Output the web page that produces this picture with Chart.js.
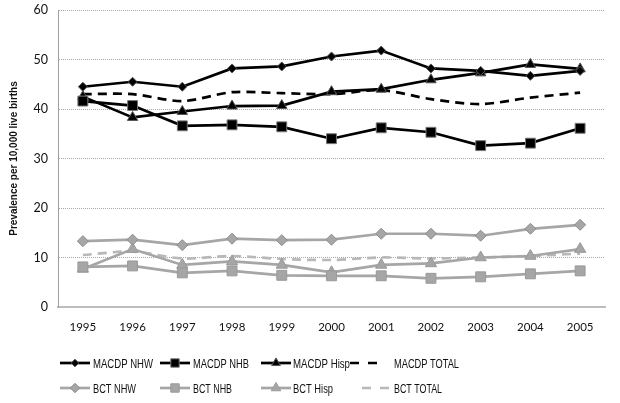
<!DOCTYPE html>
<html lang="en">
<head>
<meta charset="UTF-8">
<title>Prevalence per 10,000 live births</title>
<script src="https://cdn.jsdelivr.net/npm/chart.js"></script>
<style>
  html, body { margin: 0; padding: 0; background: #fff; }
</style>
</head>
<body>
<canvas id="chart" width="620" height="403"></canvas>
<script>
  const years = ['1995', '1996', '1997', '1998', '1999', '2000', '2001', '2002', '2003', '2004', '2005'];
  const yTicks = [0, 10, 20, 30, 40, 50, 60];

  const macdpNHW   = [44.5, 45.5, 44.5, 48.2, 48.6, 50.6, 51.8, 48.2, 47.7, 46.7, 47.7];
  const macdpNHB   = [41.6, 40.7, 36.6, 36.8, 36.4, 34.0, 36.2, 35.3, 32.6, 33.1, 36.1];
  const macdpHisp  = [42.5, 38.3, 39.5, 40.6, 40.7, 43.5, 44.0, 45.9, 47.3, 49.0, 48.1];
  const macdpTotal = [43.0, 43.0, 41.6, 43.4, 43.2, 43.0, 43.8, 42.0, 41.0, 42.3, 43.3];

  const bctNHW   = [13.3, 13.6, 12.5, 13.8, 13.5, 13.6, 14.8, 14.8, 14.4, 15.8, 16.6];
  const bctNHB   = [8.1, 8.3, 6.9, 7.3, 6.4, 6.3, 6.3, 5.8, 6.1, 6.7, 7.3];
  const bctHisp  = [7.7, 11.7, 8.5, 9.2, 8.5, 7.0, 8.5, 8.8, 10.0, 10.3, 11.7];
  const bctTotal = [10.5, 11.2, 9.8, 10.3, 9.7, 9.5, 10.0, 9.8, 10.0, 10.3, 10.8];

  const BLACK = '#000000';
  const GREY = '#a6a6a6';
  const LIGHT = '#b8b8b8';

  function solid(label, data, color, style, radius, edge) {
    return {
      label, data,
      borderColor: color, borderWidth: 2.7,
      pointStyle: style, pointRadius: radius, pointHoverRadius: radius,
      pointBackgroundColor: color, pointBorderColor: edge, pointBorderWidth: 1,
      tension: 0
    };
  }
  function dashed(label, data, color) {
    return {
      label, data,
      borderColor: color, borderWidth: 2.7, borderDash: [9, 6],
      pointRadius: 0, pointHoverRadius: 0, pointStyle: false,
      tension: 0.3
    };
  }

  const datasets = [
    solid('MACDP NHW', macdpNHW, BLACK, 'rectRot', 4.5, '#555'),
    solid('MACDP NHB', macdpNHB, BLACK, 'rect', 7, '#777'),
    solid('MACDP Hisp', macdpHisp, BLACK, 'triangle', 6, '#555'),
    dashed('MACDP TOTAL', macdpTotal, BLACK),
    solid('BCT NHW', bctNHW, GREY, 'rectRot', 5.5, '#8c8c8c'),
    solid('BCT NHB', bctNHB, GREY, 'rect', 7, '#999'),
    solid('BCT Hisp', bctHisp, GREY, 'triangle', 6.5, '#999'),
    dashed('BCT TOTAL', bctTotal, LIGHT)
  ];

  // grid legend, 4 columns x 2 rows like the original
  const gridLegend = {
    id: 'gridLegend',
    afterDraw(chart) {
      const ctx = chart.ctx;
      const cols = [60, 160, 261, 350];
      const textX = [93, 193, 293, 394];
      const rows = [363, 388];
      const maxW = [60, 56, 57, 65, 43, 39, 40, 48];
      chart.data.datasets.forEach((ds, i) => {
        const c = i % 4, r = Math.floor(i / 4);
        const y = rows[r];
        let x0 = cols[c], x1 = x0 + 30;
        if (c === 3) { x0 = r === 0 ? 350 : 362; x1 = x0 + 27; }
        ctx.save();
        ctx.strokeStyle = ds.borderColor;
        ctx.lineWidth = ds.borderWidth;
        ctx.setLineDash(ds.borderDash ? [9, 9] : []);
        ctx.beginPath();
        ctx.moveTo(x0, y);
        ctx.lineTo(x1, y);
        ctx.stroke();
        ctx.setLineDash([]);
        if (ds.pointStyle) {
          ctx.fillStyle = ds.pointBackgroundColor;
          ctx.strokeStyle = ds.pointBorderColor;
          ctx.lineWidth = 1;
          Chart.helpers.drawPoint(ctx, {
            pointStyle: ds.pointStyle, radius: ds.pointRadius * 0.85, rotation: 0, borderWidth: 1
          }, (x0 + x1) / 2, y);
        }
        ctx.fillStyle = '#111';
        ctx.font = '13px "Liberation Sans", sans-serif';
        ctx.textBaseline = 'middle';
        ctx.fillText(ds.label, textX[c], y + 1, maxW[i]);
        ctx.restore();
      });
    }
  };

  new Chart(document.getElementById('chart'), {
    type: 'line',
    data: { labels: years, datasets },
    options: {
      responsive: false,
      animation: false,
      layout: { padding: { left: 0, right: 15, top: 10, bottom: 66 } },
      plugins: { legend: { display: false }, tooltip: { enabled: false } },
      scales: {
        x: {
          offset: true,
          grid: { display: false, drawTicks: false },
          border: { display: true, color: '#bdbdbd', width: 2 },
          ticks: { color: '#111', font: { family: 'Lato', size: 11.5 }, padding: 13 },
          afterFit: s => { s.height = 30; s.paddingLeft = 0; s.paddingRight = 0; }
        },
        y: {
          min: 0, max: 60,
          afterBuildTicks: s => { s.ticks = yTicks.map(v => ({ value: v })); },
          grid: { color: '#a8a8a8', lineWidth: 1, drawTicks: false },
          border: { display: true, color: '#a0a0a0', width: 1, dash: [1, 1] },
          ticks: { color: '#111', font: { family: 'Lato', size: 12.5 }, padding: 10 },
          title: {
            display: true, text: 'Prevalence per 10,000 live births',
            color: '#111', font: { family: 'Liberation Sans', size: 10, weight: 'bold' },
            padding: { top: 8, bottom: 0 }
          },
          afterFit: s => { s.width = 58; s.paddingTop = 0; s.paddingBottom = 0; }
        }
      }
    },
    plugins: [gridLegend]
  });
</script>
</body>
</html>
